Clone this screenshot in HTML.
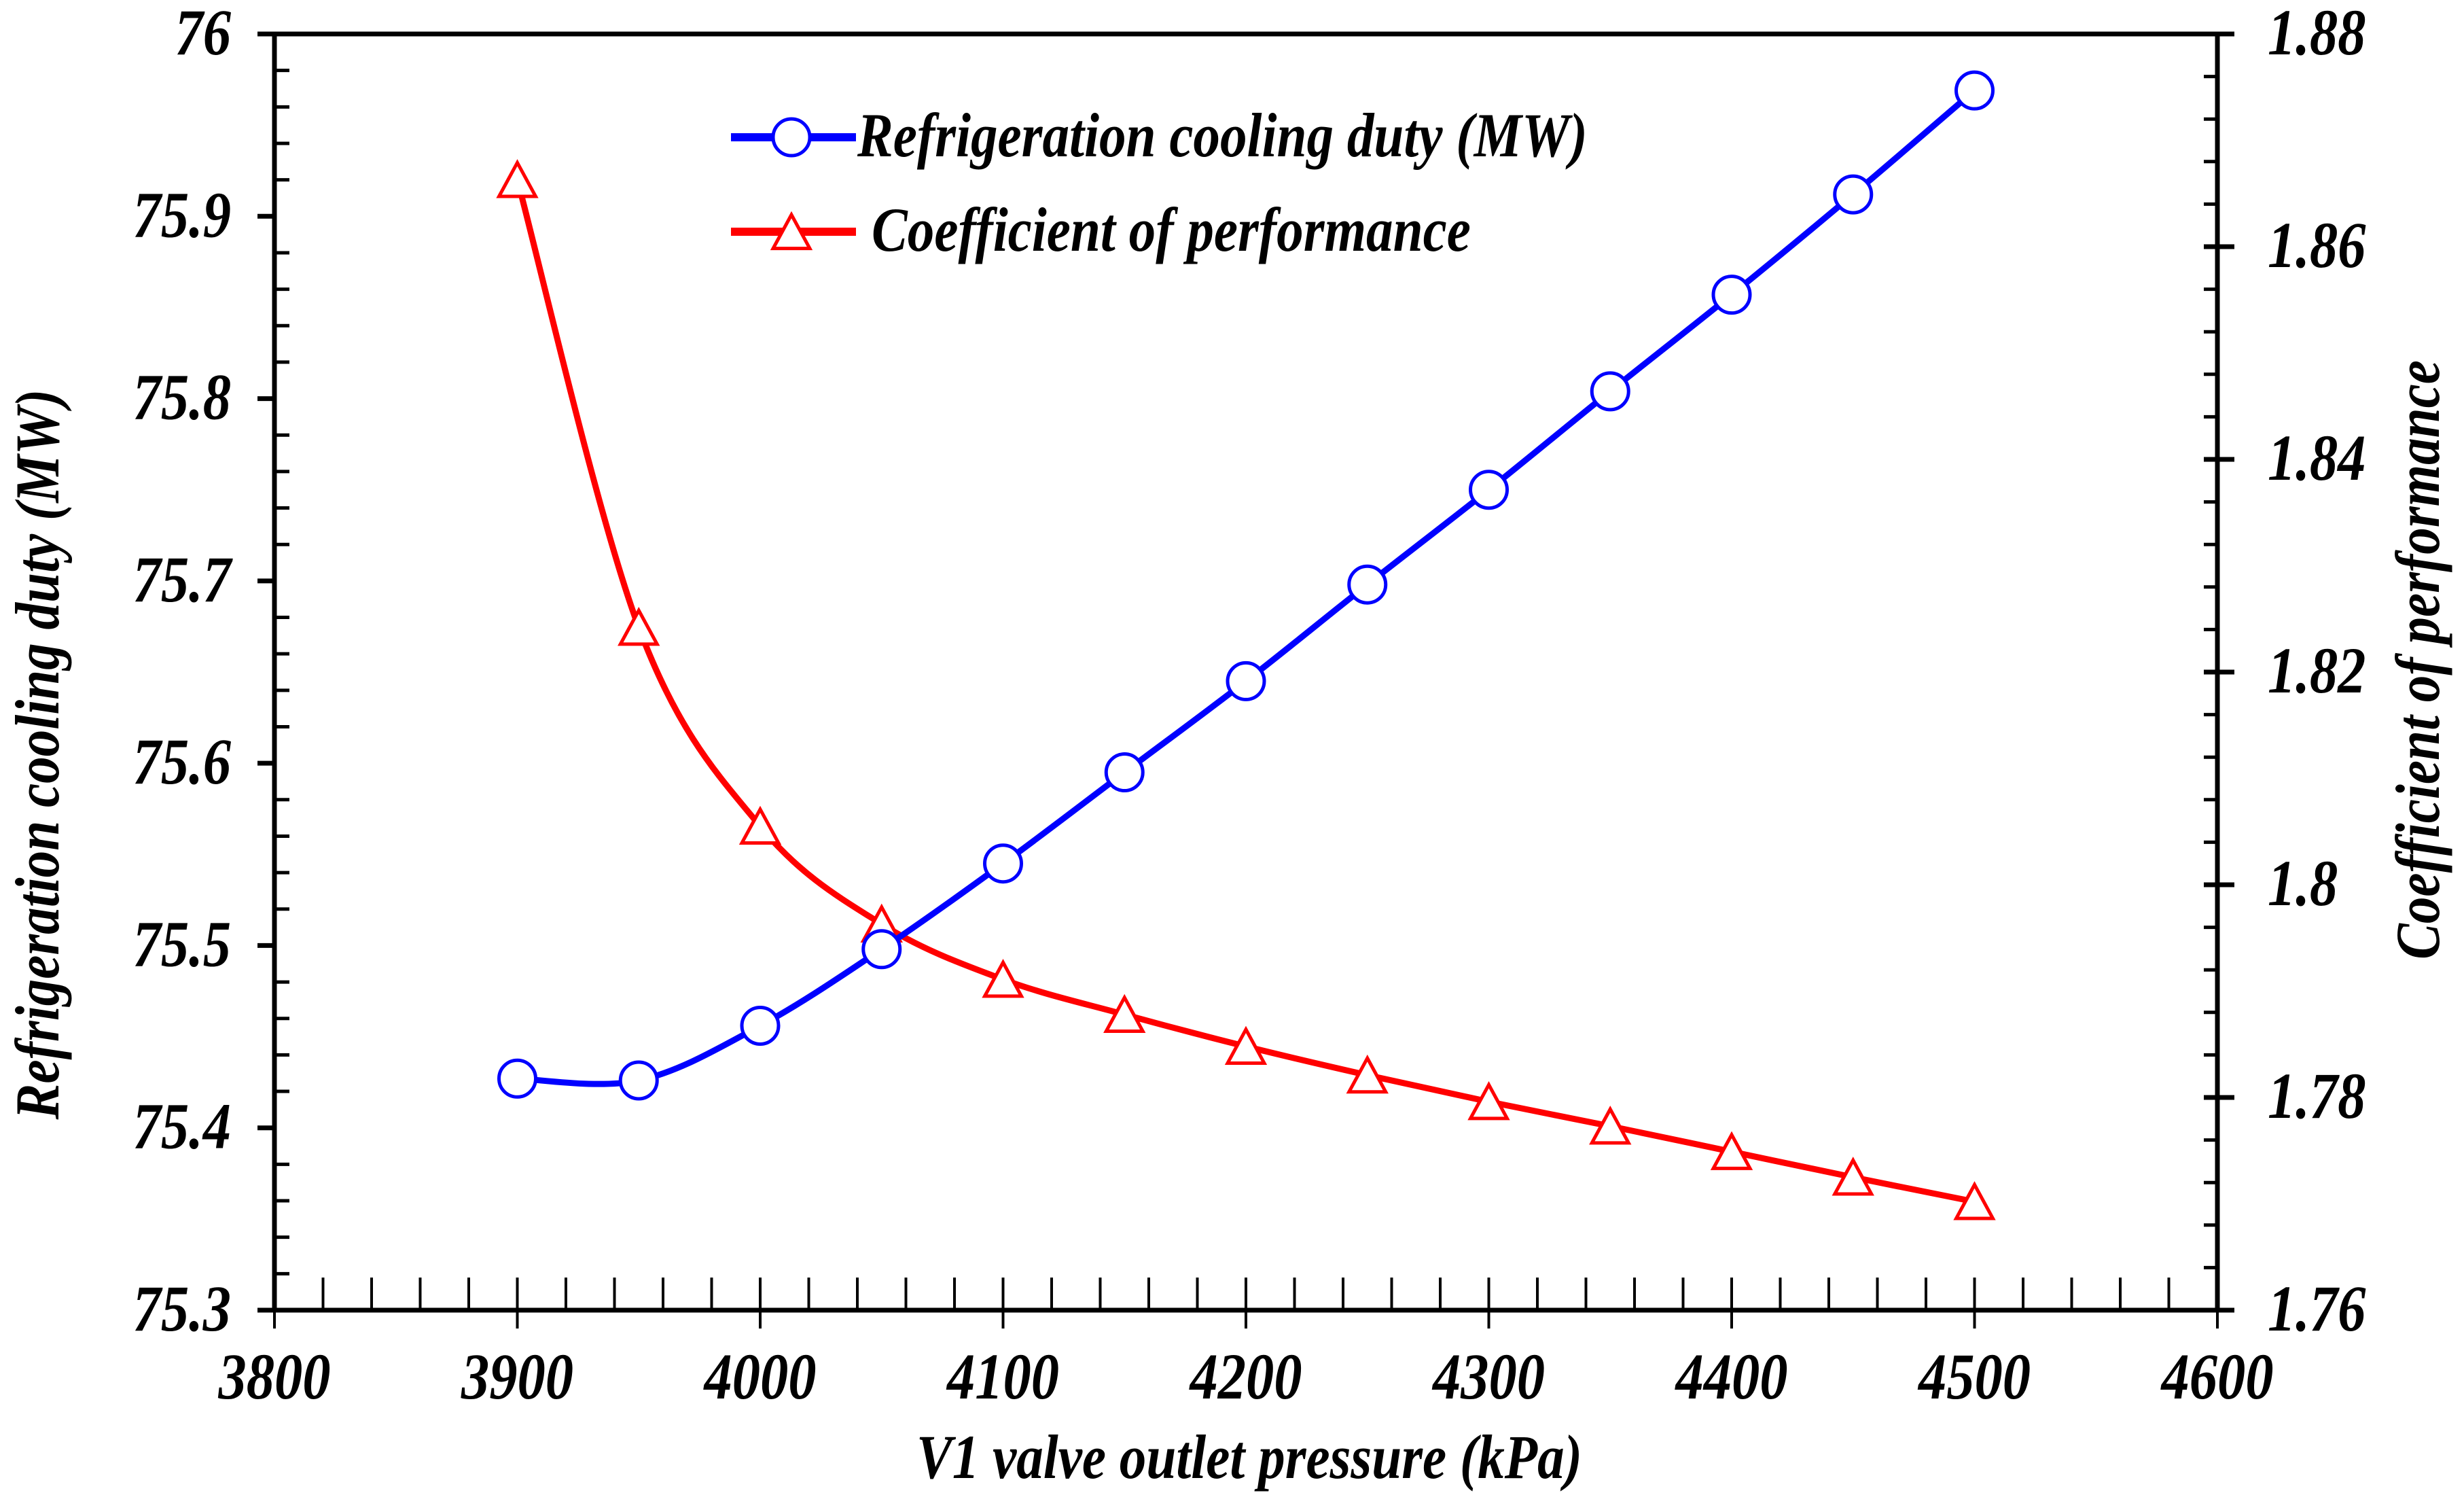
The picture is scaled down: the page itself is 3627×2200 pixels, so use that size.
<!DOCTYPE html>
<html><head><meta charset="utf-8"><style>
html,body{margin:0;padding:0;background:#fff}
svg{display:block}
text{font-family:"Liberation Serif",serif;font-weight:bold;font-style:italic;fill:#000}
</style></head><body>
<svg id="chart" width="3627" height="2200" viewBox="0 0 3627 2200" xmlns="http://www.w3.org/2000/svg"></svg>
<script>
const pressures=[3900,3950,4000,4050,4100,4150,4200,4250,4300,4350,4400,4450,4500];
const coolingDuty=[75.427,75.426,75.456,75.498,75.545,75.595,75.645,75.698,75.750,75.804,75.857,75.912,75.969];
const cop=[1.8663,1.8242,1.8055,1.7963,1.7911,1.7878,1.7848,1.7821,1.7796,1.7773,1.7749,1.7725,1.7702];
const xTicks=[3800,3900,4000,4100,4200,4300,4400,4500,4600];
const yLeftTicks=[75.3,75.4,75.5,75.6,75.7,75.8,75.9,76];
const yLeftLabels=["75.3","75.4","75.5","75.6","75.7","75.8","75.9","76"];
const yRightTicks=[1.76,1.78,1.80,1.82,1.84,1.86,1.88];
const yRightLabels=["1.76","1.78","1.8","1.82","1.84","1.86","1.88"];

const L=404,R=3264,T=50,B=1928;
const sx=v=>L+(v-3800)/(4600-3800)*(R-L);
const syL=v=>B-(v-75.3)/(76-75.3)*(B-T);
const syR=v=>B-(v-1.76)/(1.88-1.76)*(B-T);
const svg=document.getElementById('chart');
const NS='http://www.w3.org/2000/svg';
function mk(tag,attrs,parent){const e=document.createElementNS(NS,tag);for(const k in attrs)e.setAttribute(k,attrs[k]);(parent||svg).appendChild(e);return e;}
function line(x1,y1,x2,y2,w,c,g){return mk('line',{x1,y1,x2,y2,stroke:c||'#000','stroke-width':w},g);}
function txt(x,y,size,anchor,rot,parent){
  return mk('text',{x:0,y:0,'font-size':size,'text-anchor':anchor,transform:'translate('+x+','+y+') rotate('+rot+') scale(0.86,1)'},parent);
}

const axes=mk('g',{});


mk('rect',{x:L,y:T,width:R-L,height:B-T,fill:'none',stroke:'#000','stroke-width':7},axes);
for(let i=0;i<xTicks.length;i++){
  const x=sx(xTicks[i]);
  line(x,B-48,x,B+27,4,'#000',axes);
  if(i<xTicks.length-1){for(let m=1;m<5;m++){const xm=sx(xTicks[i]+m*20);line(xm,B-48,xm,B,4,'#000',axes);}}
  const t=txt(x,2058,96,'middle',0,axes);
  t.textContent=String(xTicks[i]);
  
  
}
for(let i=0;i<yLeftTicks.length;i++){
  const y=syL(yLeftTicks[i]);
  line(L-25,y,L,y,7,'#000',axes);
  if(i<yLeftTicks.length-1){for(let m=1;m<5;m++){const ym=syL(yLeftTicks[i]+m*0.02);line(L,ym,L+22,ym,5,'#000',axes);}}
  const t=txt(340,y+30,96,'end',0,axes);
  t.textContent=yLeftLabels[i];
  
  
}
for(let i=0;i<yRightTicks.length;i++){
  const y=syR(yRightTicks[i]);
  line(R-20,y,R+25,y,7,'#000',axes);
  if(i<yRightTicks.length-1){for(let m=1;m<5;m++){const ym=syR(yRightTicks[i]+m*0.004);line(R-20,ym,R,ym,5,'#000',axes);}}
  const t=txt(3338,y+30,96,'start',0,axes);
  t.textContent=yRightLabels[i];
  
  
}
let tt=txt(1839,2175,92,'middle',0);
tt.textContent='V1 valve outlet pressure (kPa)';


tt=txt(86,1110,92,'middle',-90);
tt.textContent='Refrigeration cooling duty  (MW)';


tt=txt(3590,971,92,'middle',-90);
tt.textContent='Coefficient of performance';



function spline(pts){
  let d='M'+pts[0][0]+','+pts[0][1];
  for(let i=0;i<pts.length-1;i++){
    const p0=pts[Math.max(0,i-1)],p1=pts[i],p2=pts[i+1],p3=pts[Math.min(pts.length-1,i+2)];
    const c1x=p1[0]+(p2[0]-p0[0])/6,c1y=p1[1]+(p2[1]-p0[1])/6;
    const c2x=p2[0]-(p3[0]-p1[0])/6,c2y=p2[1]-(p3[1]-p1[1])/6;
    d+=' C'+c1x+','+c1y+' '+c2x+','+c2y+' '+p2[0]+','+p2[1];
  }
  return d;
}
function tri(x,y,r){return (x)+','+(y-r)+' '+(x-r*0.87)+','+(y+r*0.6)+' '+(x+r*0.87)+','+(y+r*0.6);}

const gR=mk('g',{});


const ptsR=pressures.map((p,i)=>[sx(p),syR(cop[i])]);
mk('path',{d:spline(ptsR),fill:'none',stroke:'#ff0000','stroke-width':9},gR);
ptsR.forEach(p=>{const m=mk('polygon',{points:tri(p[0],p[1]+6,31),fill:'#fff',stroke:'#ff0000','stroke-width':5},gR);

});
const gB=mk('g',{});


const ptsB=pressures.map((p,i)=>[sx(p),syL(coolingDuty[i])]);
mk('path',{d:spline(ptsB),fill:'none',stroke:'#0000ff','stroke-width':9},gB);
ptsB.forEach(p=>{const m=mk('circle',{cx:p[0],cy:p[1],r:27,fill:'#fff',stroke:'#0000ff','stroke-width':5},gB);

});

const lg=mk('g',{});


line(1076,202,1260,202,12,'#0000ff',lg);
mk('circle',{cx:1165,cy:202,r:27,fill:'#fff',stroke:'#0000ff','stroke-width':5},lg);
let lt=txt(1262,230,92,'start',0,lg);
lt.textContent='Refrigeration cooling duty (MW)';


line(1076,341,1260,341,12,'#ff0000',lg);
mk('polygon',{points:tri(1165,347,31),fill:'#fff',stroke:'#ff0000','stroke-width':5},lg);
lt=txt(1283,369,92,'start',0,lg);
lt.textContent='Coefficient of performance';


</script>
</body></html>
